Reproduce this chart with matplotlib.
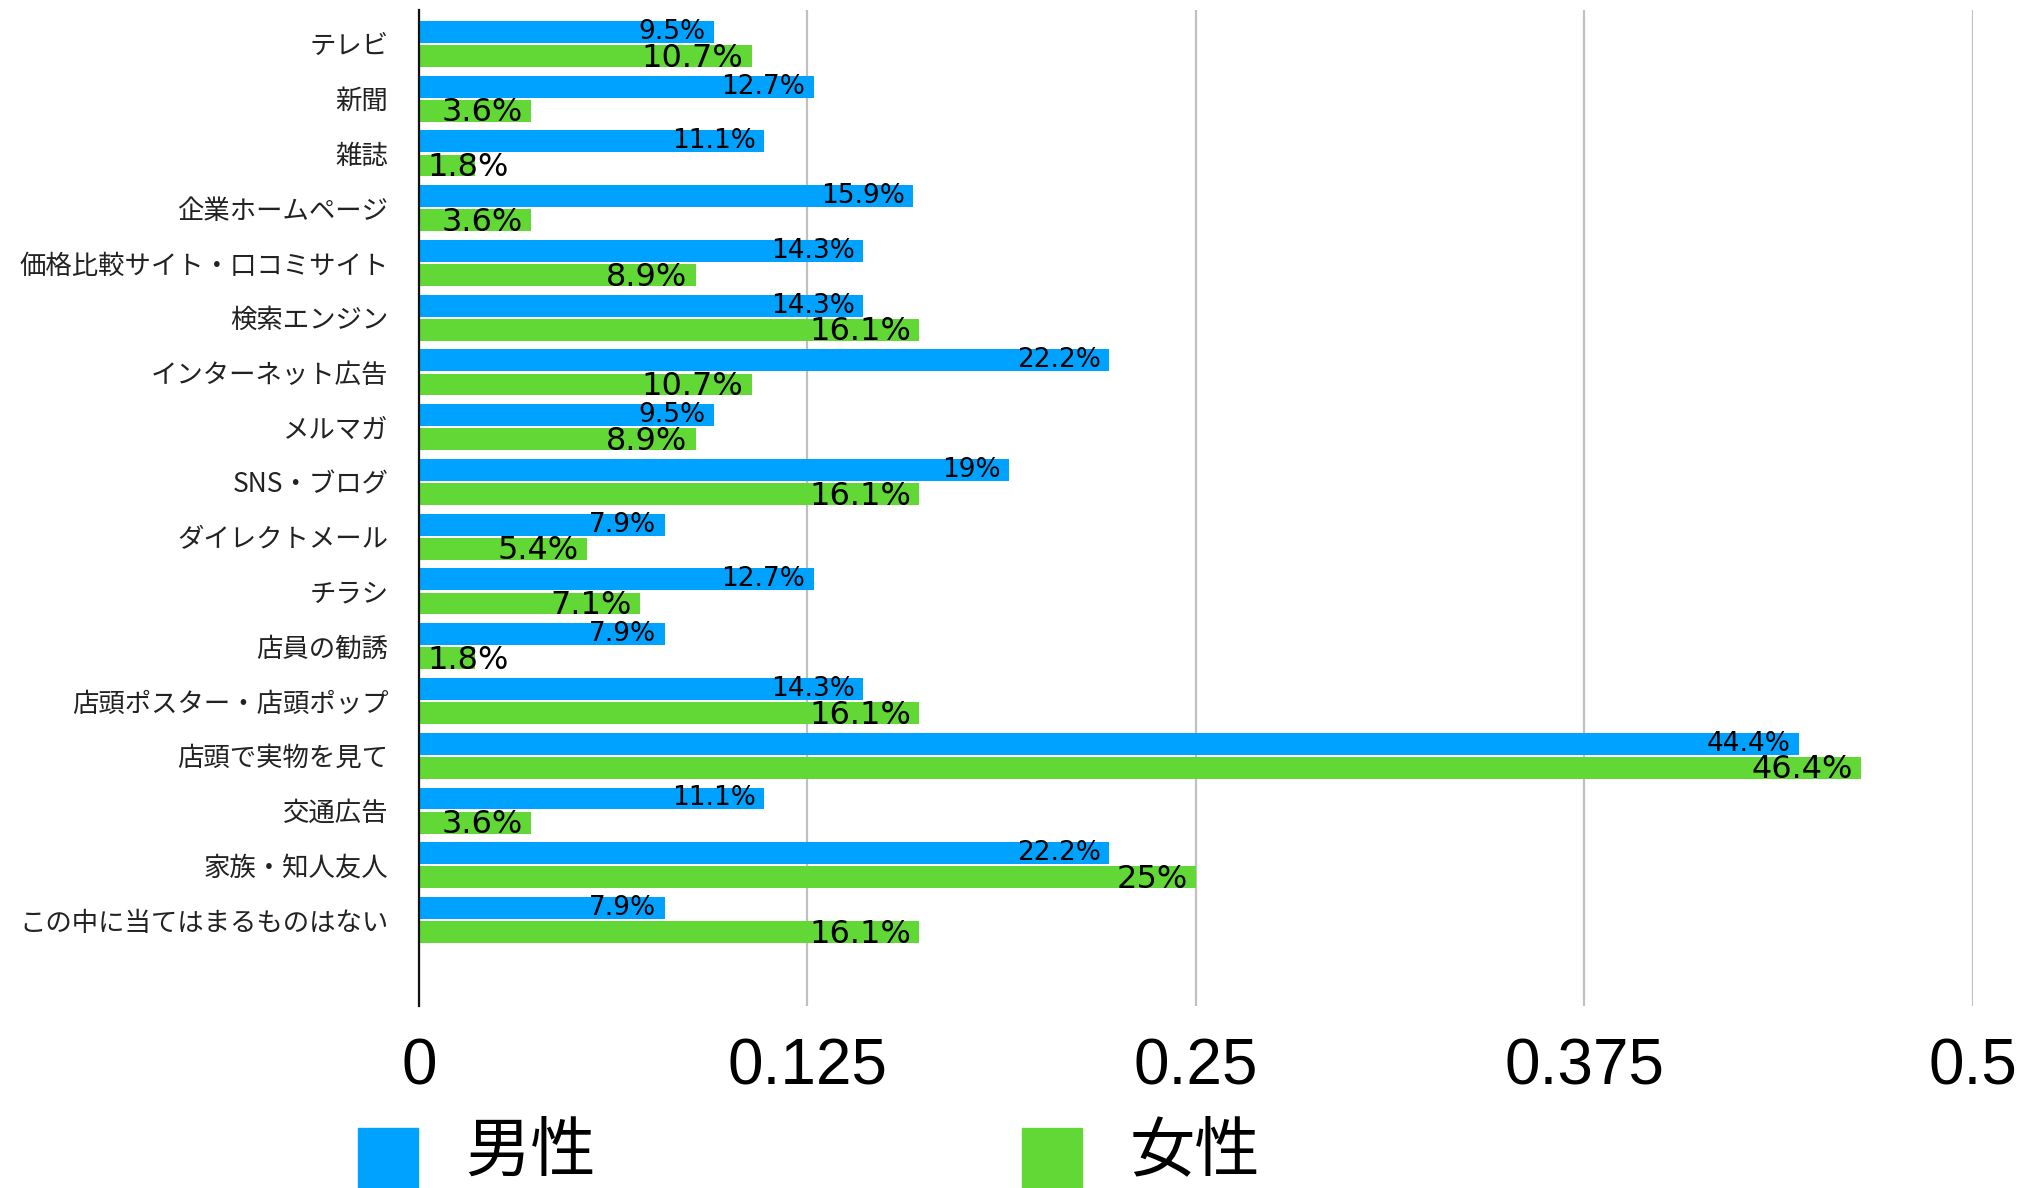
import matplotlib
matplotlib.use('Agg')
import matplotlib.pyplot as plt
from matplotlib.patches import Rectangle
import numpy as np

plt.rcParams['font.family'] = ['Noto Sans CJK JP', 'DejaVu Sans']

# データ（%）
categories = ['テレビ', '新聞', '雑誌', '企業ホームページ', '価格比較サイト・口コミサイト',
              '検索エンジン', 'インターネット広告', 'メルマガ', 'SNS・ブログ', 'ダイレクトメール',
              'チラシ', '店員の勧誘', '店頭ポスター・店頭ポップ', '店頭で実物を見て', '交通広告',
              '家族・知人友人', 'この中に当てはまるものはない']
male = [9.5, 12.7, 11.1, 15.9, 14.3, 14.3, 22.2, 9.5, 19, 7.9, 12.7, 7.9, 14.3, 44.4, 11.1, 22.2, 7.9]
female = [10.7, 3.6, 1.8, 3.6, 8.9, 16.1, 10.7, 8.9, 16.1, 5.4, 7.1, 1.8, 16.1, 46.4, 3.6, 25, 16.1]
series_names = ['男性', '女性']
xticks = [0, 0.125, 0.25, 0.375, 0.5]
xticklabels = ['0', '0.125', '0.25', '0.375', '0.5']

BLUE = '#00a2ff'
GREEN = '#61d836'
NUMFONT = ['DejaVu Sans']

fig = plt.figure(figsize=(20.31, 11.88), dpi=100)
ax = fig.add_axes([0.2063, 0.1532, 0.9714 - 0.2063, 0.9916 - 0.1532])

y = np.arange(len(categories))
h = 0.40
off = 0.22
mv = np.array(male) / 100
fv = np.array(female) / 100
ax.barh(y - off, mv, height=h, color=BLUE, zorder=2)
ax.barh(y + off, fv, height=h, color=GREEN, zorder=2)

# 値ラベル（短いバーは軸側から左寄せ）
def put_labels(ys, vals, size, dy):
    for yy, v in zip(ys, vals):
        if v < 3:
            ax.annotate(f'{v:g}%', (0, yy), xytext=(6, dy), textcoords='offset points',
                        ha='left', va='center', fontsize=size, family=NUMFONT, zorder=3)
        else:
            ax.annotate(f'{v:g}%', (v / 100, yy), xytext=(-6, dy), textcoords='offset points',
                        ha='right', va='center', fontsize=size, family=NUMFONT, zorder=3)

put_labels(y - off, male, 19, 0)
put_labels(y + off, female, 23, -1.5)

ax.set_xlim(0, 0.5)
ax.set_ylim(len(categories) - 1 + 1.57, -0.62)
ax.set_yticks(y)
ax.set_yticklabels(categories, fontsize=19, color='#222222')
ax.set_xticks(xticks)
ax.set_xticklabels(xticklabels, fontsize=46, family=['Liberation Sans', 'DejaVu Sans'])
ax.tick_params(axis='both', length=0)
ax.tick_params(axis='y', pad=22)
ax.tick_params(axis='x', pad=23)
ax.grid(axis='x', color='#c0c0c0', linewidth=1.6, zorder=0)
ax.set_axisbelow(True)
for s in ['top', 'right', 'bottom']:
    ax.spines[s].set_visible(False)
ax.spines['left'].set_linewidth(1.6)
ax.spines['left'].set_color('#111111')
ax.spines['left'].set_zorder(4)

# 凡例
W, H = 2031, 1188
for x0, col, name, tx in [(358, BLUE, series_names[0], 465), (1022, GREEN, series_names[1], 1130)]:
    fig.add_artist(Rectangle((x0 / W, 1 - 1188 / H), 60 / W, 60 / H,
                             transform=fig.transFigure, color=col))
    fig.text(tx / W, 1 - 1152 / H, name, fontsize=47, va='center', ha='left')

fig.savefig('out.png', dpi=100)
